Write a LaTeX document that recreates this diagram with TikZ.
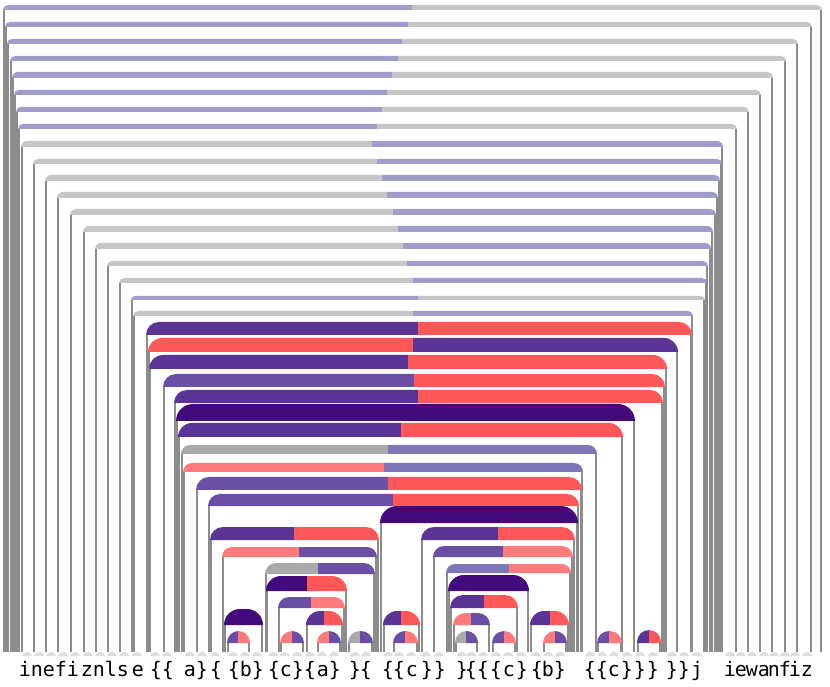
\documentclass[tikz,border=0pt]{standalone}
\usepackage{fontspec}
\newfontfamily\monofont{DejaVu Sans Mono}
\definecolor{lav}{HTML}{A19DCB}
\definecolor{lgray}{HTML}{C6C6C6}
\definecolor{vgray}{HTML}{8C8C8C}
\definecolor{pur}{HTML}{5B3596}
\definecolor{dpur}{HTML}{430A7B}
\definecolor{mpur}{HTML}{6A4FA4}
\definecolor{lpur}{HTML}{7D77B8}
\definecolor{red}{HTML}{FF5858}
\definecolor{pink}{HTML}{FF7B7B}
\definecolor{mgray}{HTML}{A9A9A9}
\definecolor{bump}{HTML}{DDDDDD}
\tikzset{vline/.style={fill=vgray},
  glyph/.style={font=\monofont\fontsize{20}{20}\selectfont, anchor=base, inner sep=0pt}}
\newcommand\arcbar[7]{%
  \pgfmathsetmacro\rr{min(#4-#3,(#2-#1)/2)}%
  \fill[vline] (#1,{686-#4}) rectangle ({#1+2},34);
  \fill[vline] ({#2-2},{686-#4}) rectangle (#2,34);
  \fill[#6] (#1,{686-#4}) -- (#1,{686-#3-\rr}) arc[start angle=180,end angle=90,radius=\rr] -- (#5,{686-#3}) -- (#5,{686-#4}) -- cycle;
  \fill[#7] (#5,{686-#4}) -- (#5,{686-#3}) -- ({#2-\rr},{686-#3}) arc[start angle=90,end angle=0,radius=\rr] -- (#2,{686-#4}) -- cycle;
}
\begin{document}
\begin{tikzpicture}[x=1pt,y=1pt]
\useasboundingbox (0,0) rectangle (830,686);
\fill[white] (0,0) rectangle (830,686);
% group A
\foreach \a/\b/\t/\u/\s in {3/822/5/10/412, 5/812/22/27/408, 7/798/39/44/402, 10/786/56/61/398, 12/773/72/78/392, 14/761/90/95/387, 16/749/107/112/382, 18/737/124/129/377}
  {\arcbar{\a}{\b}{\t}{\u}{\s}{lav}{lgray}}
% group B
\foreach \a/\b/\t/\u/\s in {21/723/141/147/372, 33/722/159/164/377, 45/720/175/181/382, 57/718/192/198/387, 70/716/209/215/393, 83/713/226/232/398, 95/711/243/249/403, 107/708/261/266/407, 119/707/278/283/413}
  {\arcbar{\a}{\b}{\t}{\u}{\s}{lgray}{lav}}
\arcbar{131}{705}{296}{300}{418}{lav}{lgray}
\arcbar{133}{693}{311}{316}{413}{lgray}{lav}
% purple / red group
\foreach \a/\b/\t/\u/\s/\l/\r in {
  146/692/322/335/418/pur/red, 148/678/338/352/413/red/pur, 149/667/355/369/408/pur/red,
  163/665/374/387/414/mpur/red, 174/663/390/403/418/pur/red, 176/635/404/421/405/dpur/dpur,
  178/623/423/437/401/pur/red, 181/597/445/454/388/mgray/lpur, 183/583/463/472/384/pink/lpur,
  196/582/477/490/388/mpur/red, 208/579/494/506/393/mpur/red, 380/578/506/523/479/dpur/dpur,
  210/379/527/540/294/pur/red, 421/575/527/540/498/pur/red, 222/377/547/557/299/pink/mpur,
  433/573/546/557/503/mpur/pink, 265/375/563/574/318/mgray/mpur, 446/571/564/573/509/lpur/pink,
  266/347/576/591/307/dpur/red, 448/529/575/591/488/dpur/dpur, 278/345/597/608/311/mpur/pink,
  450/518/595/608/484/pur/red, 224/263/609/625/243/dpur/dpur, 306/343/611/625/324/pur/red,
  383/420/611/625/401/pur/red, 453/490/613/625/471/pink/mpur, 530/569/611/625/550/pur/red,
  227/250/631/643/238/mpur/pink, 280/304/631/643/292/pink/mpur, 317/341/631/643/329/pink/mpur,
  348/373/631/643/360/mgray/mpur, 393/418/631/643/405/mpur/pink, 455/478/631/643/466/mgray/mpur,
  492/516/631/643/504/mpur/pink, 543/567/631/643/555/pink/mpur, 597/622/631/643/609/mpur/pink,
  637/661/630/643/649/pur/red}
  {\arcbar{\a}{\b}{\t}{\u}{\s}{\l}{\r}}
% bumps
\foreach \x in {27,39,51,63,75,88,100,112,124,137,155,167,190,202,215,233,245,257,273,285,297,310,322,334,355,366,388,399,411,426,439,462,471,483,496,508,521,536,548,560,590,602,614,627,640,653,672,684,697,730,741,752,764,774,785,795,807}
  {\fill[bump] ({\x-5},30) arc[start angle=180,end angle=0,x radius=5,y radius=4] -- cycle;}
% text
\foreach \c/\x [count=\n] in {i/25, n/37, e/49, f/61, i/73, z/87, n/99, l/111, s/123, e/138, \{/156, \{/168, a/190, \}/202, \{/216, \{/234, b/246, \}/258, \{/274, c/286, \}/298, \{/310, a/323, \}/335, \}/355, \{/366, \{/388, \{/399, c/412, \}/427, \}/440, \}/462, \{/471, \{/483, \{/496, c/509, \}/522, \{/537, b/548, \}/560, \{/590, \{/602, c/614, \}/627, \}/640, \}/653, \}/672, \}/684, j/697, i/730, e/741, w/752, a/764, n/774, f/785, i/795, z/807}
  {\node[glyph] (t\n) at (\x,10) {\c};}
\end{tikzpicture}
\end{document}
